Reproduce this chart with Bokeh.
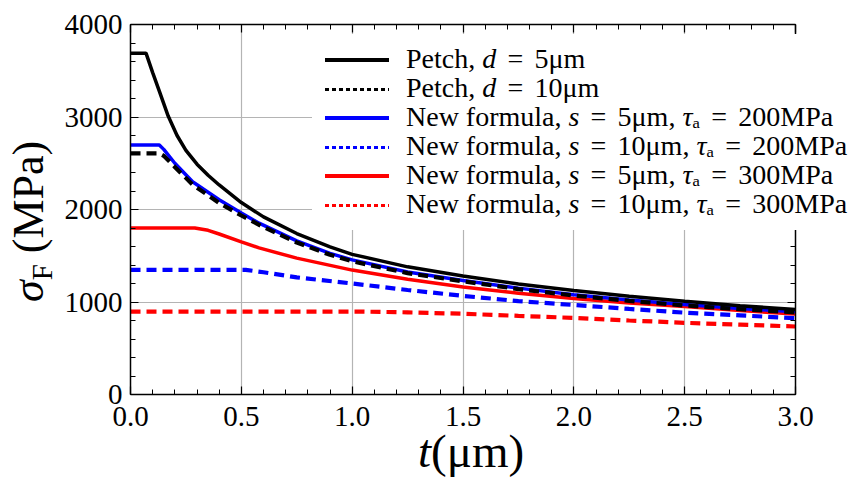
import numpy as np
from bokeh.plotting import figure
from bokeh.layouts import column
from bokeh.models import LinearAxis, FixedTicker, Range1d, Div, PrintfTickFormatter
from bokeh.embed import file_html
from bokeh.resources import INLINE

# ---------------- data ----------------
petch5_t = [0, 0.07, 0.1, 0.13, 0.17, 0.21, 0.25, 0.3, 0.35, 0.4, 0.5, 0.6, 0.75, 0.9, 1.0,
            1.25, 1.5, 1.75, 2.0, 2.25, 2.5, 2.75, 3.0]
petch5_v = [3690, 3690, 3480, 3280, 3010, 2800, 2640, 2490, 2370, 2265, 2075, 1920, 1740, 1595, 1515,
            1380, 1280, 1195, 1125, 1063, 1008, 960, 918]

petch10_t = [0, 0.13, 0.15, 0.2, 0.28, 0.4, 0.5, 0.6, 0.75, 0.9, 1.0, 1.25, 1.5, 1.75, 2.0, 2.25, 2.5, 2.75, 3.0]
petch10_v = [2606, 2606, 2580, 2460, 2270, 2070, 1935, 1810, 1643, 1510, 1440, 1312, 1224, 1140, 1070, 1012, 962, 922, 888]

new5_200_t = [0, 0.13, 0.15, 0.2, 0.28, 0.4, 0.5, 0.58, 0.75, 0.9, 1.0, 1.25, 1.5, 1.75, 2.0, 2.25, 2.5, 2.75, 3.0]
new5_200_v = [2697, 2697, 2650, 2500, 2300, 2105, 1962, 1852, 1661, 1526, 1455, 1325, 1232, 1150, 1078, 1022, 972, 930, 895]

new10_200_t = [0, 0.52, 0.6, 0.75, 1.0, 1.25, 1.5, 1.75, 2.0, 2.25, 2.5, 2.75, 3.0]
new10_200_v = [1347, 1347, 1322, 1266, 1200, 1130, 1066, 1010, 968, 925, 885, 855, 825]

new5_300_t = [0, 0.29, 0.35, 0.4, 0.5, 0.58, 0.75, 1.0, 1.25, 1.5, 1.75, 2.0, 2.25, 2.5, 2.75, 3.0]
new5_300_v = [1800, 1800, 1775, 1735, 1650, 1585, 1474, 1345, 1245, 1163, 1095, 1038, 990, 950, 908, 870]

new10_300_t = [0, 1.05, 1.25, 1.5, 1.75, 2.0, 2.25, 2.5, 2.75, 3.0]
new10_300_v = [896, 896, 888, 873, 850, 828, 800, 775, 755, 735]

# legend texts
legend_prefix = ["Petch", "Petch", "New formula", "New formula", "New formula", "New formula"]
legend_var = ["d", "d", "s", "s", "s", "s"]
legend_size = ["5μm", "10μm", "5μm", "10μm", "5μm", "10μm"]
legend_tau = [None, None, "200MPa", "200MPa", "300MPa", "300MPa"]
legend_color = ["#000000", "#000000", "#0000ff", "#0000ff", "#ff0000", "#ff0000"]
legend_dotted = [False, True, False, True, False, True]

x_major_ticks = [0, 0.5, 1.0, 1.5, 2.0, 2.5, 3.0]
x_minor_ticks = [i / 10 for i in range(31)]
y_major_ticks = [0, 1000, 2000, 3000, 4000]
y_minor_ticks = [i * 200 for i in range(21)]

FONT = "Liberation Serif"

# ---------------- figure ----------------
p = figure(width=859, height=482, output_backend="svg", toolbar_location=None,
           x_range=Range1d(0, 3), y_range=Range1d(0, 4000),
           min_border_left=130, min_border_right=64, min_border_top=24, min_border_bottom=88,
           x_axis_location=None, y_axis_location=None, margin=0)
p.outline_line_color = None
p.background_fill_color = "white"
p.border_fill_color = "white"

xt = FixedTicker(ticks=x_major_ticks, minor_ticks=x_minor_ticks)
yt = FixedTicker(ticks=y_major_ticks, minor_ticks=y_minor_ticks)


def style_axis(ax, show_labels, standoff=6):
    ax.axis_line_color = "black"
    ax.axis_line_width = 1.5
    ax.major_tick_in = 8
    ax.major_tick_out = 0
    ax.minor_tick_in = 5
    ax.minor_tick_out = 0
    ax.major_tick_line_color = "black"
    ax.minor_tick_line_color = "black"
    ax.major_tick_line_width = 1.2
    ax.minor_tick_line_width = 1.0
    ax.major_label_text_font = FONT
    if show_labels:
        ax.major_label_text_color = "black"
        ax.major_label_text_font_size = "29px"
        ax.major_label_standoff = standoff
    else:
        ax.major_label_text_color = None
        ax.major_label_text_font_size = "1px"
        ax.major_label_standoff = 0


xb = LinearAxis(ticker=xt, formatter=PrintfTickFormatter(format="%.1f"))
style_axis(xb, True, 12)
p.add_layout(xb, "below")
xa = LinearAxis(ticker=xt, formatter=PrintfTickFormatter(format="%.1f"))
style_axis(xa, False)
p.add_layout(xa, "above")
yl = LinearAxis(ticker=yt, formatter=PrintfTickFormatter(format="%d"))
style_axis(yl, True, 8)
p.add_layout(yl, "left")
yr = LinearAxis(ticker=yt, formatter=PrintfTickFormatter(format="%d"))
style_axis(yr, False)
p.add_layout(yr, "right")

p.xgrid.ticker = xt
p.ygrid.ticker = yt
for g in (p.xgrid, p.ygrid):
    g.grid_line_color = "#b4b4b4"
    g.grid_line_width = 1.2

# ---------------- curves ----------------
DASH = "10 6"
p.line(new10_300_t, new10_300_v, line_color="#ff0000", line_width=4.2, line_dash=DASH)
p.line(new10_200_t, new10_200_v, line_color="#0000ff", line_width=4.2, line_dash=DASH)
p.line(new5_300_t, new5_300_v, line_color="#ff0000", line_width=3.5)
p.line(new5_200_t, new5_200_v, line_color="#0000ff", line_width=3.5)
p.line(petch10_t, petch10_v, line_color="black", line_width=4.2, line_dash=DASH)
p.line(petch5_t, petch5_v, line_color="black", line_width=3.5)

# ---------------- HTML overlay: legend (with italic symbols) and axis titles ----------------
EQ = "<span style=\"padding:0 0.4em;\">=</span>"
rows = []
for i in range(len(legend_prefix)):
    yc = 60 + 29 * i
    col = legend_color[i]
    if legend_dotted[i]:
        key = ("<div style=\"position:absolute;left:325px;top:%.1fpx;width:64px;height:3px;"
               "background:repeating-linear-gradient(to right,%s 0px,%s 4px,transparent 4px,transparent 7px);\"></div>"
               % (yc - 1.5, col, col))
    else:
        key = ("<div style=\"position:absolute;left:325px;top:%.1fpx;width:64px;height:3.5px;"
               "background:%s;\"></div>" % (yc - 1.75, col))
    txt = "%s, <i>%s</i>%s%s" % (legend_prefix[i], legend_var[i], EQ, legend_size[i])
    if legend_tau[i] is not None:
        txt += ", <i>τ</i>ₐ%s%s" % (EQ, legend_tau[i])
    label = ("<div style=\"position:absolute;left:406px;top:%.1fpx;white-space:nowrap;"
             "font-size:28px;line-height:28px;\">%s</div>" % (yc - 15.4, txt))
    rows.append(key + label)

overlay_html = (
    "<div style=\"position:relative;width:859px;height:482px;overflow:hidden;"
    "font-family:'Liberation Serif',serif;color:#000;\">"
    # legend box
    "<div style=\"position:absolute;left:312px;top:34px;width:547px;height:196px;background:#fff;\"></div>"
    + "".join(rows) +
    # y title
    "<div style=\"position:absolute;left:7px;top:302px;transform-origin:0 0;"
    "transform:rotate(-90deg);white-space:nowrap;font-size:44px;line-height:44px;\">"
    "<i>σ</i><span style=\"font-size:29px;position:relative;top:9px;\">F</span> (MPa)</div>"
    # x title
    "<div style=\"position:absolute;left:418px;top:428px;white-space:nowrap;"
    "font-size:47px;line-height:47px;\"><i>t</i>(μm)</div>"
    "</div>"
)
overlay = Div(text=overlay_html, width=859, height=482, margin=(-482, 0, 0, 0))

layout = column(p, overlay, spacing=0, margin=0)
open("out.html", "w").write(file_html(layout, INLINE))
